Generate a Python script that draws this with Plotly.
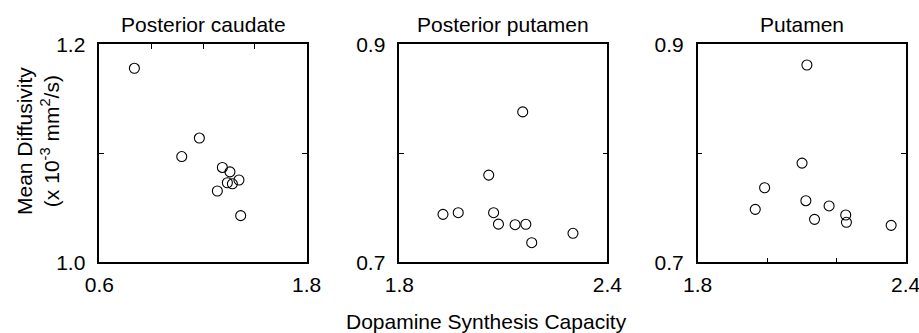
import plotly.graph_objects as go

# ---- data ----
titles = ["Posterior caudate", "Posterior putamen", "Putamen"]

caudate_x = [0.803, 1.179, 1.077, 1.312, 1.356, 1.408, 1.341, 1.370, 1.283, 1.418]
caudate_y = [1.178, 1.114, 1.097, 1.087, 1.083, 1.0755, 1.073, 1.072, 1.0654, 1.0428]

post_putamen_x = [2.156, 2.058, 1.926, 1.970, 2.072, 2.086, 2.134, 2.165, 2.182, 2.301]
post_putamen_y = [0.838, 0.780, 0.744, 0.7455, 0.7455, 0.735, 0.7345, 0.7349, 0.718, 0.7266]

putamen_x = [2.115, 2.101, 1.993, 1.966, 2.112, 2.179, 2.137, 2.227, 2.229, 2.358]
putamen_y = [0.881, 0.791, 0.7684, 0.7486, 0.7565, 0.7517, 0.7394, 0.7434, 0.7367, 0.7339]

x_ranges = [[0.6, 1.8], [1.8, 2.4], [1.8, 2.4]]
y_ranges = [[1.0, 1.2], [0.7, 0.9], [0.7, 0.9]]
y_ticks = [[1.0, 1.1, 1.2], [0.7, 0.8, 0.9], [0.7, 0.8, 0.9]]
y_ticktext = [["1.0", " ", "1.2"], ["0.7", " ", "0.9"], ["0.7", " ", "0.9"]]
x_ticks = [[0.6, 1.8], [1.8, 2.4], [1.8, 2.0, 2.2, 2.4]]
x_ticktext = [["0.6", "1.8"], ["1.8", "2.4"], ["1.8", " ", " ", "2.4"]]
top_ticks_panel1 = [0.9, 1.2, 1.5]

x_title = "Dopamine Synthesis Capacity"
y_title = "Mean Diffusivity<br>(x 10<sup>-3</sup> mm<sup>2</sup>/s)"

FONT = "Liberation Sans, Arial, sans-serif"
W, H = 919, 333

# panel layout in pixels
x_px = [(99.3, 306.7), (399.3, 607.3), (697.7, 905.7)]
y_px = (44.3, 262.3)
y_dom = [(H - y_px[1]) / H, (H - y_px[0]) / H]

xs = [caudate_x, post_putamen_x, putamen_x]
ys = [caudate_y, post_putamen_y, putamen_y]

fig = go.Figure()
for i in range(3):
    sfx = "" if i == 0 else str(i + 1)
    fig.add_trace(go.Scatter(
        x=xs[i], y=ys[i], mode="markers",
        xaxis="x" + sfx, yaxis="y" + sfx,
        marker=dict(symbol="circle-open", size=10, color="black",
                    line=dict(width=1.1, color="black")),
        showlegend=False, hoverinfo="x+y",
    ))
    axis_font = dict(family=FONT, size=21, color="black")
    fig.layout["xaxis" + sfx] = dict(
        domain=[x_px[i][0] / W, x_px[i][1] / W], anchor="y" + sfx,
        range=x_ranges[i], tickmode="array", tickvals=x_ticks[i],
        ticktext=x_ticktext[i], ticks="inside", ticklen=5, tickwidth=1,
        tickcolor="black", showline=True, linecolor="black", linewidth=1.5,
        mirror=True, showgrid=False, zeroline=False, tickfont=axis_font,
        ticklabelstandoff=3, ticklabeloverflow="allow",
        fixedrange=True, automargin=False,
    )
    fig.layout["yaxis" + sfx] = dict(
        domain=y_dom, anchor="x" + sfx, range=y_ranges[i],
        tickmode="array", tickvals=y_ticks[i], ticktext=y_ticktext[i],
        ticks="inside", ticklen=5, tickwidth=1, tickcolor="black",
        showline=True, linecolor="black", linewidth=1.5, mirror="ticks",
        showgrid=False, zeroline=False, tickfont=axis_font,
        ticklabelstandoff=8, ticklabeloverflow="allow",
        fixedrange=True, automargin=False,
    )

# top-side ticks for panel 1
fig.add_trace(go.Scatter(x=[], y=[], xaxis="x4", yaxis="y", showlegend=False,
                         hoverinfo="skip"))
fig.layout["xaxis4"] = dict(
    overlaying="x", side="top", anchor="y", range=x_ranges[0],
    tickmode="array", tickvals=top_ticks_panel1, ticks="inside", ticklen=5,
    tickwidth=1, tickcolor="black", showticklabels=False, showline=False,
    showgrid=False, zeroline=False, fixedrange=True, automargin=False,
)

annotations = []
for i in range(3):
    annotations.append(dict(
        text=titles[i], x=(x_px[i][0] + x_px[i][1]) / 2 / W, y=(H - 25) / H,
        xref="paper", yref="paper", showarrow=False, xanchor="center",
        yanchor="middle", font=dict(family=FONT, size=21, color="black"),
    ))
annotations.append(dict(
    text=x_title, x=486 / W, y=(H - 321) / H, xref="paper", yref="paper",
    showarrow=False, xanchor="center", yanchor="middle",
    font=dict(family=FONT, size=21, color="black"),
))
annotations.append(dict(
    text=y_title, x=38 / W, y=(H - 141) / H, xref="paper", yref="paper",
    showarrow=False, xanchor="center", yanchor="middle", textangle=-90,
    font=dict(family=FONT, size=21, color="black"),
))

fig.update_layout(
    width=W, height=H, margin=dict(l=0, r=0, t=0, b=0, pad=0, autoexpand=False),
    paper_bgcolor="white", plot_bgcolor="white",
    font=dict(family=FONT, size=21, color="black"),
    annotations=annotations,
)

fig.write_html(
    "out.html",
    config={"displayModeBar": False},
    post_script="document.body.style.margin='0px';document.body.style.overflow='hidden';",
)
